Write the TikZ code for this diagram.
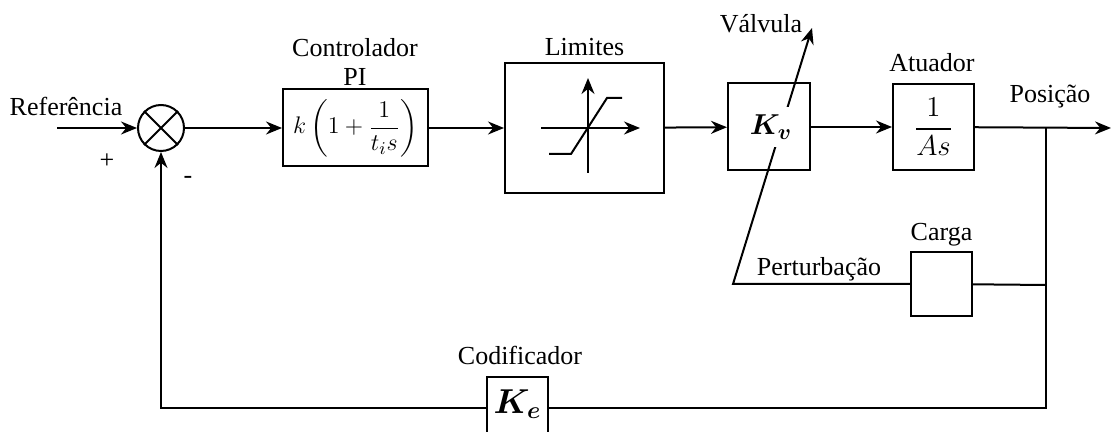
\documentclass[tikz,border=0pt]{standalone}
\usepackage{amsmath}
\usepackage{fontspec}
\setmainfont{Liberation Serif}
\usetikzlibrary{arrows.meta, positioning, calc}

\begin{document}
\begin{tikzpicture}[
  x=0.5pt, y=-0.5pt,
  every node/.style={font=\fontsize{13}{14.5}\selectfont},
  block/.style={rectangle, draw=black, line width=1pt, inner sep=0pt},
  sumnode/.style={circle, draw=black, line width=1pt, minimum size=23pt, inner sep=0pt},
  sig/.style={line width=1pt, -{Stealth[length=8pt, width=6.5pt]}},
  wire/.style={line width=1pt}
]
  \useasboundingbox (0,0) rectangle (1113,432);
  \clip (0,0) rectangle (1113,432);

  % blocks
  \node[sumnode] (sum)  at (161,128)   {};
  \draw[wire] (sum.north west) -- (sum.south east) (sum.north east) -- (sum.south west);
  \node[block, minimum width=72.5pt, minimum height=38.5pt] (pi)   at (355.5,128) {$k\left(1+\dfrac{1}{t_i s}\right)$};
  \node[block, minimum width=79.5pt, minimum height=65pt]   (lim)  at (584.5,128) {};
  \node[block, minimum width=41pt,   minimum height=43.5pt] (valv) at (769,127)   {};
  \node[block, minimum width=40.5pt, minimum height=43pt]   (act)  at (933.5,127) {\fontsize{14}{15}\selectfont$\dfrac{1}{As}$};
  \node[block, minimum width=30.5pt, minimum height=32pt]   (load) at (941.5,284) {};
  \node[block, minimum width=30.5pt, minimum height=40pt]   (enc)  at (517.5,417) {};
  \node (ke) at (517.5,404) {\fontsize{17}{18}\selectfont$\boldsymbol{K_e}$};

  % labels
  \node (lref)   at (66,106)   {Referência};
  \node (lplus)  at (107,161)  {+};
  \node (lminus) at (188,180)  {-};
  \node[align=center] (lpi) at (355,62) {Controlador\\PI};
  \node (llim)   at (584.5,47) {Limites};
  \node (lvalv)  at (761,24)   {Válvula};
  \node (lact)   at (932,63)   {Atuador};
  \node (lpos)   at (1050,97)  {Posição};
  \node (lload)  at (941.5,235){Carga};
  \node (ldist)  at (819,269)  {Perturbação};
  \node (lenc)   at (520,355)  {Codificador};

  % saturation inside Limites
  \draw[sig]  (541,128) -- (640,128);
  \draw[sig]  (588,173) -- (588,78);
  \draw[wire] (549,154) -- (571,154) -- (607,98) -- (622,98);

  \coordinate (in)  at (57,128);
  \coordinate (jn)  at (1046,128);
  \coordinate (out) at (1111,128);
  \coordinate (jc)  at (1046,285);
  \coordinate (jb)  at (1046,408);
  \coordinate (fb)  at (161,408);
  \coordinate (pc)  at (733,284);
  \coordinate (vt)  at (812,28);

  \foreach \a/\b in {in/sum, sum/pi, pi/lim, lim/valv, valv/act, act/out}{
    \draw[sig] (\a) -- (\b);
  }
  \draw[wire] (jn) -- (jb) -- (enc.east |- jb);
  \draw[sig]  (enc.west |- fb) -- (fb) -- (sum.south);
  \draw[wire] (load) -- (jc);
  \draw[sig]  (load.west) -- (pc) -- (vt);
  \node[fill=white, inner xsep=1.5pt, inner ysep=4pt] (kv) at (771,127) {\fontsize{15}{16}\selectfont$\boldsymbol{K_v}$};
\end{tikzpicture}
\end{document}
